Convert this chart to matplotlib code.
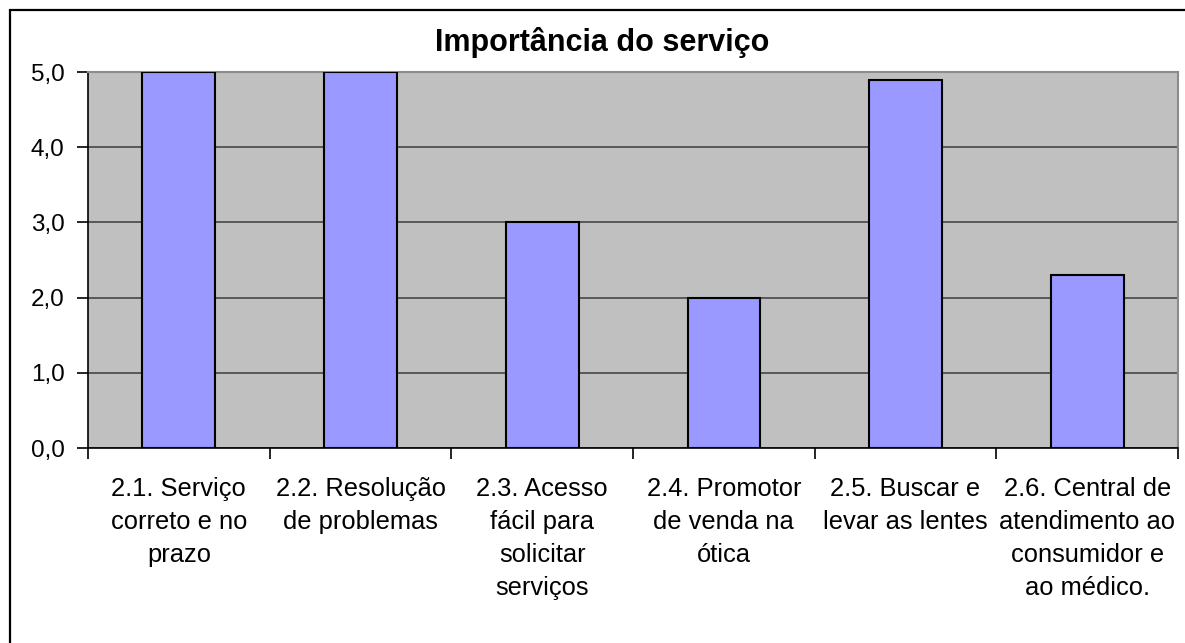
import matplotlib.pyplot as plt
from matplotlib.patches import Rectangle

plt.rcParams['font.family'] = ['Liberation Sans', 'DejaVu Sans']

# dados do grafico
categorias = ['2.1. Serviço\ncorreto e no\nprazo',
              '2.2. Resolução\nde problemas',
              '2.3. Acesso\nfácil para\nsolicitar\nserviços',
              '2.4. Promotor\nde venda na\nótica',
              '2.5. Buscar e\nlevar as lentes',
              '2.6. Central de\natendimento ao\nconsumidor e\nao médico.']
notas = [5.0, 5.0, 3.0, 2.0, 4.9, 2.3]
yticks = [0, 1, 2, 3, 4, 5]
ylabels = ['0,0', '1,0', '2,0', '3,0', '4,0', '5,0']

W, H = 1185, 643
fig = plt.figure(figsize=(W/100, H/100), dpi=100)
ax = fig.add_axes([88/W, 1-448/H, (1178-88)/W, (448-72)/H])

# borda externa (so aparece em cima e a esquerda)
fig.add_artist(Rectangle((9.5/W, -0.1), 1.2, 1-10/H+0.1, transform=fig.transFigure,
                         fill=False, edgecolor='black', linewidth=1.6))

x = list(range(len(notas)))
ax.set_facecolor('#c0c0c0')
ax.bar(x, notas, width=0.4, color='#9999ff', edgecolor='black', linewidth=1.5, zorder=3)

ax.set_xlim(-0.5, len(notas)-0.5)
ax.set_ylim(0, 5)
ax.set_yticks(yticks)
ax.set_yticklabels(ylabels, fontsize=17.5)
ax.yaxis.grid(True, color='#505050', linewidth=1.3, zorder=1)
ax.set_axisbelow(True)

# ticks do eixo x entre as categorias, rotulos no centro
ax.set_xticks([i - 0.5 for i in range(len(notas)+1)])
ax.set_xticklabels([])
ax.set_xticks(x, minor=True)
ax.set_xticklabels(categorias, minor=True, fontsize=18.4, linespacing=1.47, va='top')
ax.tick_params(axis='x', which='minor', length=0, pad=21)
ax.tick_params(axis='x', which='major', length=8, width=1.2, direction='out')
ax.tick_params(axis='y', length=8, width=1.2, direction='out', pad=9)

for s in ['top', 'right']:
    ax.spines[s].set_color('#8c8c8c')
    ax.spines[s].set_linewidth(1.5)
for s in ['left', 'bottom']:
    ax.spines[s].set_color('black')
    ax.spines[s].set_linewidth(1.2)

fig.text(602/W, 1-43/H, 'Importância do serviço', fontsize=22, fontweight='bold',
         ha='center', va='center')

fig.savefig('out.png', dpi=100)
